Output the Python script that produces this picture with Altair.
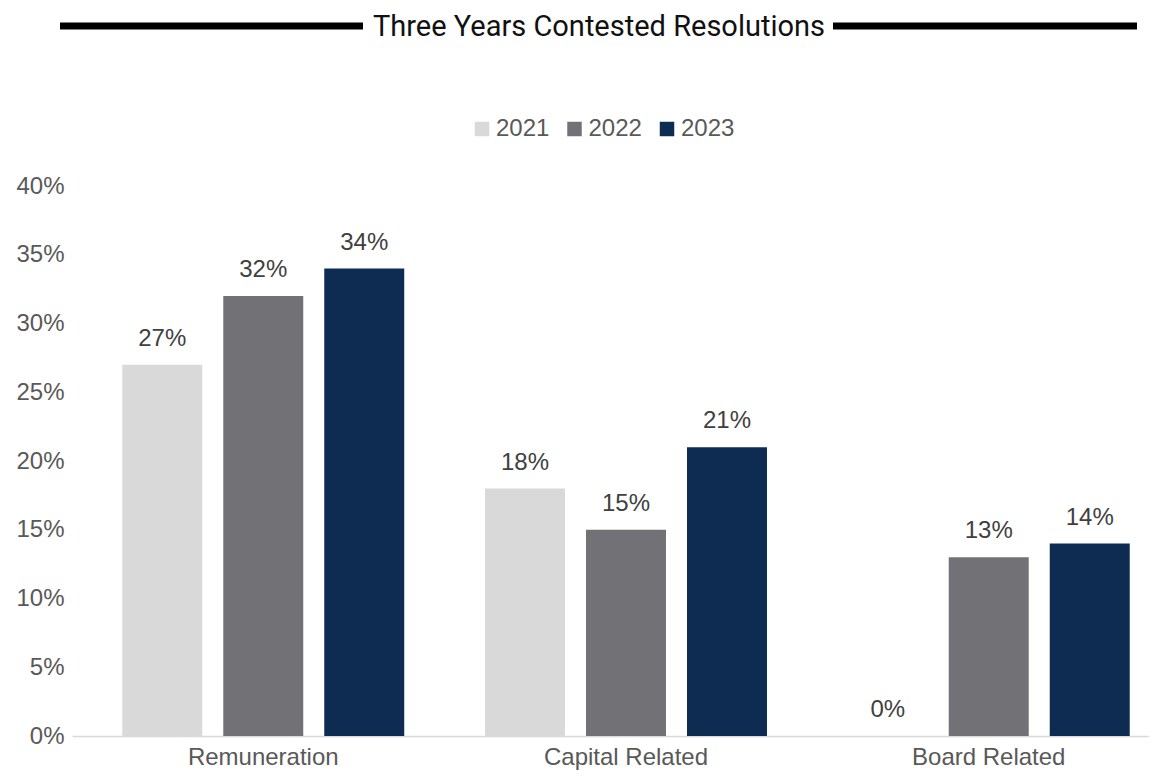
import altair as alt
import pandas as pd

categories = ["Remuneration", "Capital Related", "Board Related"]
years = ["2021", "2022", "2023"]
values_2021 = [0.27, 0.18, 0.00]
values_2022 = [0.32, 0.15, 0.13]
values_2023 = [0.34, 0.21, 0.14]
colors = ["#D9D9D9", "#727176", "#0E2C51"]
y_ticks = [0.0, 0.05, 0.10, 0.15, 0.20, 0.25, 0.30, 0.35, 0.40]
title_text = "Three Years Contested Resolutions"

rows = []
for yr, vals in zip(years, [values_2021, values_2022, values_2023]):
    for c, v in zip(categories, vals):
        rows.append({"category": c, "year": yr, "value": v})
df = pd.DataFrame(rows)

FONT = "Liberation Sans, Arial, sans-serif"
TFONT = "Roboto, sans-serif"

x_enc = alt.X(
    "category:N",
    sort=categories,
    scale=alt.Scale(paddingInner=0.2227, paddingOuter=0.1386, range=[0, 1108]),
    axis=alt.Axis(
        title=None, labelAngle=0, ticks=False, grid=False,
        domainColor="#D9D9D9", domainWidth=1.5,
        labelColor="#595959", labelFontSize=24, labelFont=FONT,
        labelPadding=9,
    ),
)
y_enc = alt.Y(
    "value:Q",
    scale=alt.Scale(domain=[0, 0.4], nice=False),
    axis=alt.Axis(
        title=None, values=y_ticks, format=".0%", domain=False, ticks=False,
        grid=False, labelColor="#595959", labelFontSize=24, labelFont=FONT,
        labelPadding=8,
    ),
)
xo_enc = alt.XOffset("year:N", sort=years, scale=alt.Scale(paddingInner=0.208, paddingOuter=0))

base = alt.Chart(df)

bars = base.mark_bar(strokeWidth=0).encode(
    x=x_enc,
    xOffset=xo_enc,
    y=y_enc,
    color=alt.Color(
        "year:N",
        sort=years,
        scale=alt.Scale(domain=years, range=colors),
        legend=alt.Legend(
            orient="none", legendX=398, legendY=-69, direction="horizontal",
            title=None, symbolType="square", symbolSize=210, symbolStrokeWidth=0,
            labelFontSize=24, labelColor="#595959", labelFont=FONT,
            labelOffset=2, columnPadding=12.5, padding=0,
        ),
    ),
)

labels = base.mark_text(
    baseline="alphabetic", dy=-19, fontSize=24, color="#404040", font=FONT
).encode(
    x=x_enc,
    xOffset=xo_enc,
    y=y_enc,
    text=alt.Text("value:Q", format=".0%"),
)

title_df = pd.DataFrame({"t": [title_text]})
title_mark = alt.Chart(title_df).mark_text(
    fontSize=29, font=TFONT, color="#111111", align="center", baseline="middle"
).encode(text="t:N", x=alt.value(527), y=alt.value(-159))

rule_left = alt.Chart(title_df).mark_rule(strokeWidth=7, color="#000000").encode(
    x=alt.value(-12), x2=alt.value(291), y=alt.value(-160)
)
rule_right = alt.Chart(title_df).mark_rule(strokeWidth=7, color="#000000").encode(
    x=alt.value(761), x2=alt.value(1065), y=alt.value(-160)
)

chart = alt.layer(bars, labels, title_mark, rule_left, rule_right).properties(
    width=1077,
    height=550,
    autosize="none",
    padding={"left": 64, "top": 178, "right": 0, "bottom": 36},
    background="white",
).configure_view(stroke=None)

chart.save("out.html", embed_options={"renderer": "svg", "actions": False})
